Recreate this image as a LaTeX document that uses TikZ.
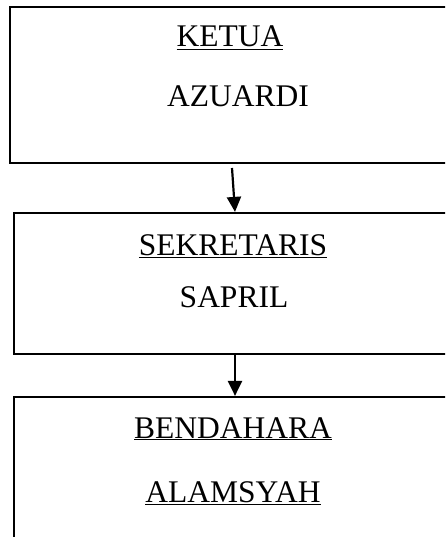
\documentclass[tikz,border=0pt]{standalone}
\usepackage{fontspec}
\setmainfont{Liberation Serif}
\usetikzlibrary{arrows.meta}
\tikzset{
	box/.style = {draw, line width = 2.2pt, rectangle, inner sep = 0pt},
	lbl/.style = {anchor = base, inner sep = 0pt, font = \fontsize{31.5}{36}\selectfont},
	arr/.style = {line width = 2.2pt, -{Triangle[width = 14pt, length = 15pt]}}
}

\begin{document}
\begin{tikzpicture}[x = 1pt, y = -1pt]
		\useasboundingbox (0,0) rectangle (445,537);
		\clip (0,0) rectangle (445,537);
		%
		\node (ketuabox) [box, minimum width = 446pt, minimum height = 156pt] at (233,85) {};
		\node (sekbox) [box, minimum width = 442pt, minimum height = 141pt] at (235,283.5) {};
		\node (bendbox) [box, minimum width = 442pt, minimum height = 170pt] at (235,482) {};
		%
		\node (ketua) [lbl] at (230,47) {\underline{KETUA}};
		\node (azuardi) [lbl] at (238,107) {AZUARDI};
		\node (sekretaris) [lbl] at (233,255) {\underline{SEKRETARIS}};
		\node (sapril) [lbl] at (234,307) {SAPRIL};
		\node (bendahara) [lbl] at (233,438) {\underline{BENDAHARA}};
		\node (alamsyah) [lbl] at (233,502) {\underline{ALAMSYAH}};
		%
		\coordinate (k1) at (232,168);
		\draw [arr] (k1) -- (sekbox.north);
		\draw [arr] (sekbox.south) -- (bendbox.north);
	\end{tikzpicture}
\end{document}
